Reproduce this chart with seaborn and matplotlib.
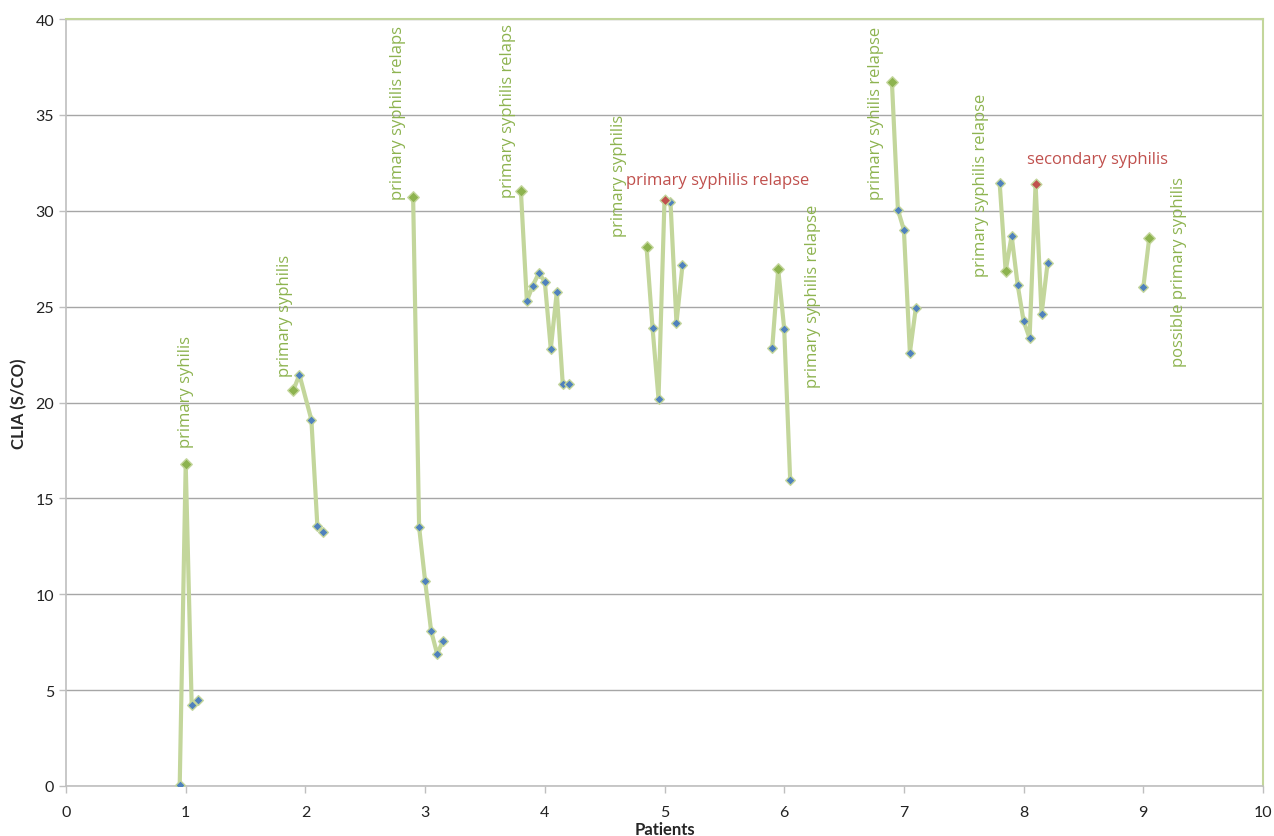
import matplotlib
matplotlib.use("Agg")
import matplotlib.pyplot as plt
import seaborn as sns
import pandas as pd

# Serial CLIA measurements per patient (x offset within each patient group)
patient_ids = [1, 2, 3, 4, 5, 6, 7, 8, 9]
x_positions = [
    [0.95, 1.00, 1.05, 1.10],
    [1.90, 1.95, 2.05, 2.10, 2.15],
    [2.90, 2.95, 3.00, 3.05, 3.10, 3.15],
    [3.80, 3.85, 3.90, 3.95, 4.00, 4.05, 4.10, 4.15, 4.20],
    [4.85, 4.90, 4.95, 5.00, 5.05, 5.10, 5.15],
    [5.90, 5.95, 6.00, 6.05],
    [6.90, 6.95, 7.00, 7.05, 7.10],
    [7.80, 7.85, 7.90, 7.95, 8.00, 8.05, 8.10, 8.15, 8.20],
    [9.00, 9.05],
]
clia_values = [
    [0.05, 16.8, 4.2, 4.5],
    [20.65, 21.45, 19.1, 13.55, 13.25],
    [30.7, 13.5, 10.7, 8.1, 6.9, 7.55],
    [31.05, 25.3, 26.1, 26.75, 26.3, 22.8, 25.75, 20.95, 20.95],
    [28.1, 23.9, 20.2, 30.55, 30.45, 24.15, 27.15],
    [22.85, 26.95, 23.85, 15.95],
    [36.7, 30.05, 29.0, 22.6, 24.95],
    [31.45, 26.85, 28.7, 26.15, 24.25, 23.35, 31.4, 24.6, 27.25],
    [26.0, 28.6],
]
# d = diagnosis, f = follow-up, r = relapse / new stage
sample_status = [
    ["f", "d", "f", "f"],
    ["d", "f", "f", "f", "f"],
    ["d", "f", "f", "f", "f", "f"],
    ["d", "f", "f", "f", "f", "f", "f", "f", "f"],
    ["d", "f", "f", "r", "f", "f", "f"],
    ["f", "d", "f", "f"],
    ["d", "f", "f", "f", "f"],
    ["f", "d", "f", "f", "f", "f", "r", "f", "f"],
    ["f", "d"],
]

# Annotations: text, x, y, rotation, colour key
annotations = [
    ("primary syhilis", 1.00, 17.7, 90, "g"),
    ("primary syphilis", 1.83, 21.4, 90, "g"),
    ("primary syphilis relaps", 2.77, 30.6, 90, "g"),
    ("primary syphilis relaps", 3.69, 30.7, 90, "g"),
    ("primary syphilis", 4.62, 28.7, 90, "g"),
    ("primary syphilis relapse", 5.44, 31.2, 0, "r"),
    ("primary syphilis relapse", 6.24, 20.8, 90, "g"),
    ("primary syhilis relapse", 6.77, 30.6, 90, "g"),
    ("primary syphilis relapse", 7.64, 26.6, 90, "g"),
    ("secondary syphilis", 8.62, 32.3, 0, "r"),
    ("possible primary syphilis", 9.30, 21.9, 90, "g"),
]

rows = []
for pid, xs, vs, st in zip(patient_ids, x_positions, clia_values, sample_status):
    for x, v, s in zip(xs, vs, st):
        rows.append({"patient": pid, "x": x, "clia": v, "status": s})
df = pd.DataFrame(rows)

LINE_GREEN = "#C3D69B"
LABEL_GREEN = "#8DB34F"
MARK_GREEN = "#8DB34F"
MARK_BLUE = "#4F81BD"
MARK_RED = "#C0504D"
text_colors = {"g": LABEL_GREEN, "r": MARK_RED}

sns.set_theme(style="white")
plt.rcParams["font.family"] = ["Lato", "DejaVu Sans"]

fig = plt.figure(figsize=(12.74, 8.37), dpi=100)
ax = fig.add_axes([66 / 1274, 50 / 837, 1197 / 1274, 767 / 837])

sns.lineplot(data=df, x="x", y="clia", units="patient", estimator=None,
             color=LINE_GREEN, linewidth=3.0, ax=ax, zorder=2, legend=False)

sizes = {"d": 34, "f": 24, "r": 30}
palette = {"d": MARK_GREEN, "f": MARK_BLUE, "r": MARK_RED}
for key in ["f", "d", "r"]:
    sub = df[df["status"] == key]
    sns.scatterplot(data=sub, x="x", y="clia", marker="D", s=sizes[key],
                    color=palette[key], edgecolor=LINE_GREEN, linewidth=1.0,
                    ax=ax, zorder=3, legend=False)

for text, x, y, rot, c in annotations:
    ax.text(x, y, text, rotation=rot, ha="center", va="bottom",
            color=text_colors[c], fontsize=12, family=["Open Sans", "DejaVu Sans"],
            zorder=4)

ax.set_xlim(0, 10)
ax.set_ylim(0, 40)
ax.set_xticks(range(0, 11))
ax.set_yticks(range(0, 41, 5))
ax.yaxis.grid(True, color="#A6A6A6", linewidth=1.0)
ax.set_axisbelow(True)

for side in ["left", "bottom"]:
    ax.spines[side].set_color("#BFBFBF")
    ax.spines[side].set_linewidth(1.2)
for side in ["top", "right"]:
    ax.spines[side].set_visible(True)
    ax.spines[side].set_color(LINE_GREEN)
    ax.spines[side].set_linewidth(1.5)

ax.tick_params(axis="both", which="both", direction="out", length=5,
               width=1, color="#BFBFBF", labelsize=11.5, labelcolor="#222222",
               bottom=True, left=True)
ax.tick_params(axis="x", pad=9)
ax.set_xlabel("Patients", fontsize=12, fontweight="bold", labelpad=1)
ax.set_ylabel("CLIA (S/CO)", fontsize=12, fontweight="bold", labelpad=6)

fig.savefig("out.png", dpi=100)
